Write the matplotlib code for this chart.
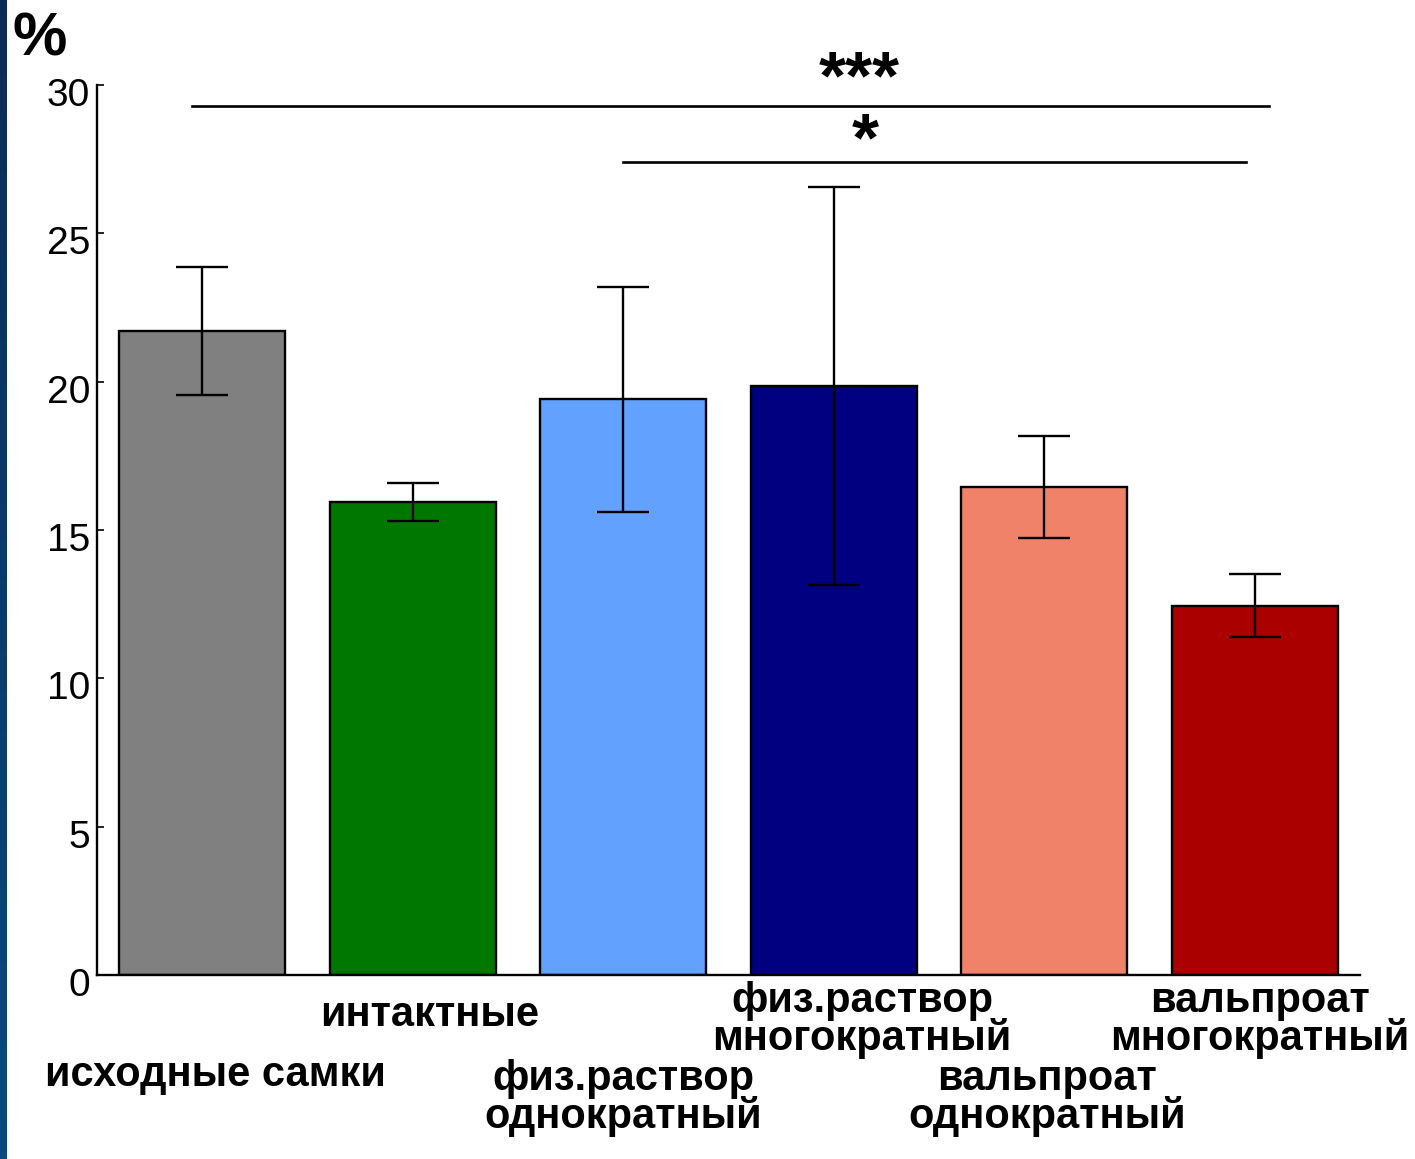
import numpy as np
import matplotlib.pyplot as plt
from matplotlib.colors import LinearSegmentedColormap
from matplotlib.transforms import ScaledTranslation

# --- Data ---
groups = ["исходные самки", "интактные", "физ.раствор\nоднократный",
          "физ.раствор\nмногократный", "вальпроат\nоднократный",
          "вальпроат\nмногократный"]
means = [21.7, 15.95, 19.4, 19.85, 16.45, 12.45]
errors = [2.17, 0.64, 3.8, 6.72, 1.72, 1.05]
colors = ["#808080", "#007800", "#62a1fe", "#000080", "#f0826a", "#aa0000"]

# significance lines: x start, x end, height, star label and its position
sig_start = [-0.05, 2.0]
sig_end = [5.07, 4.96]
sig_height = [29.3, 27.4]
sig_stars = ["***", "*"]
sig_star_x = [3.12, 3.15]
sig_star_y = [29.55, 27.45]

plt.rcParams["font.family"] = ["Liberation Sans", "DejaVu Sans"]

fig = plt.figure(figsize=(14.15, 11.59), dpi=100)
ax = fig.add_axes([0.0686, 0.1588, 0.8925, 0.768])

x = np.arange(len(groups))
ax.bar(x, means, width=0.79, color=colors, edgecolor="black", linewidth=1.7, zorder=2)
ax.errorbar(x, means, yerr=errors, fmt="none", ecolor="black", elinewidth=1.7,
            capsize=19, capthick=1.7, zorder=3)

for x0, x1, h, stars, sx, sy in zip(sig_start, sig_end, sig_height,
                                    sig_stars, sig_star_x, sig_star_y):
    ax.plot([x0, x1], [h, h], color="black", lw=1.9, clip_on=False)
    ax.text(sx, sy, stars, ha="center", va="baseline", fontsize=50,
            fontweight="bold", clip_on=False)

ax.set_xlim(-0.5, 5.5)
ax.set_ylim(0, 30)
ax.set_yticks(range(0, 31, 5))
ax.tick_params(axis="y", direction="in", length=5, width=1.2, labelsize=28, pad=5)
shift = ScaledTranslation(0, -7 / 100, fig.dpi_scale_trans)
for lbl in ax.get_yticklabels():
    lbl.set_transform(lbl.get_transform() + shift)
ax.set_xticks([])
for side in ["top", "right"]:
    ax.spines[side].set_visible(False)
ax.spines["left"].set_linewidth(1.7)
ax.spines["bottom"].set_linewidth(1.7)

# staggered category labels under the axis
label_pos = [(215, 1075), (430, 1015), (623, 1098), (862, 1020), (1047, 1098), (1260, 1020)]
for name, (px, py) in zip(groups, label_pos):
    fig.text(px / 1415, 1 - py / 1159, name, ha="center", va="center",
             fontsize=30, fontweight="bold", linespacing=0.88)

fig.text(13 / 1415, 1 - 40 / 1159, "%", ha="left", va="center",
         fontsize=44, fontweight="bold")

# dark blue stripe on the left edge
strip = fig.add_axes([0, 0, 7 / 1415, 1])
grad = np.linspace(0, 1, 256).reshape(-1, 1)
cmap = LinearSegmentedColormap.from_list("strip", ["#0a2c55", "#0b4a7e"])
strip.imshow(grad, aspect="auto", cmap=cmap, origin="upper")
strip.axis("off")

fig.savefig("out.png", dpi=100)
